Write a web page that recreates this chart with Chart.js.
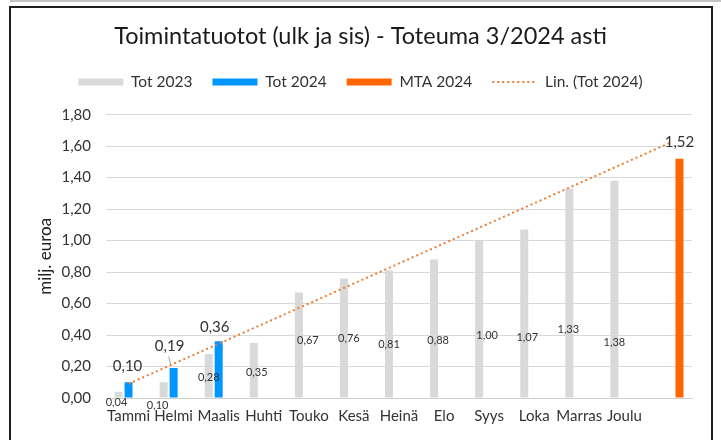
<!DOCTYPE html>
<html><head><meta charset="utf-8">
<script src="https://cdn.jsdelivr.net/npm/chart.js@4.4.1/dist/chart.umd.min.js"></script>
<style>
html,body{margin:0;padding:0;background:#fff;}
#wrap{position:relative;width:721px;height:440px;overflow:hidden;background:#fff;}
#topline{position:absolute;left:10px;top:0;width:711px;height:2px;background:#c4c4c4;}
#frame{position:absolute;left:9px;top:6px;width:700px;height:460px;border:2px solid #1e1e1e;pointer-events:none;}
canvas{position:absolute;left:0;top:0;}
</style></head><body>
<div id="wrap"><canvas id="c" width="721" height="440"></canvas><div id="topline"></div><div id="frame"></div></div>
<script>
// ---- data ----
const categories = ['Tammi','Helmi','Maalis','Huhti','Touko','Kesä','Heinä','Elo','Syys','Loka','Marras','Joulu',''];
const tot2023 = [0.04,0.10,0.28,0.35,0.67,0.76,0.81,0.88,1.00,1.07,1.33,1.38,null];
const tot2024 = [0.10,0.19,0.36,null,null,null,null,null,null,null,null,null,null];
const mta2024 = [null,null,null,null,null,null,null,null,null,null,null,null,1.52];
const trendTot2024 = [0.09,null,null,null,null,null,null,null,null,null,null,null,1.62];
const yTickMin = 0, yTickMax = 1.8, yTickStep = 0.2;

// label anchor positions (value units for height, px for horizontal nudge)
const lbl2023Y = [-0.03,-0.048,0.13,0.162,0.365,0.378,0.34,0.365,0.399,0.384,0.435,0.352,null];
const lbl2023Dx = [-2,-6,0,3,9,5,0,4,8,3,-1,0,0];
const lbl2024Y = [0.20,0.327,0.448];
const lbl2024Dx = [-1,-4,-4];
const lblMtaY = 1.624;

const FONT = 'Lato, "Open Sans", sans-serif';
const fmt = v => Number(v).toFixed(2).replace('.', ',');

const labelPlugin = {
  id: 'valueLabels',
  afterDatasetsDraw(chart) {
    const ctx = chart.ctx, ys = chart.scales.y;
    ctx.save();
    ctx.textAlign = 'center';
    ctx.textBaseline = 'middle';
    const m0 = chart.getDatasetMeta(0);
    ctx.font = '11px ' + FONT; ctx.fillStyle = '#333';
    tot2023.forEach((v, i) => {
      if (v == null) return;
      const b = m0.data[i];
      ctx.fillText(fmt(v), b.x + lbl2023Dx[i], ys.getPixelForValue(lbl2023Y[i]));
    });
    const m1 = chart.getDatasetMeta(1);
    ctx.font = '15px ' + FONT; ctx.fillStyle = '#333';
    tot2024.forEach((v, i) => {
      if (v == null) return;
      const b = m1.data[i];
      const lx = b.x + lbl2024Dx[i], ly = ys.getPixelForValue(lbl2024Y[i]);
      ctx.fillText(fmt(v), lx, ly);
      if (b.y - ly > 18) {
        ctx.strokeStyle = '#a6a6a6'; ctx.lineWidth = 1;
        ctx.beginPath(); ctx.moveTo(lx - 1, ly + 10); ctx.lineTo(b.x - 3, b.y - 4); ctx.stroke();
      }
    });
    const m2 = chart.getDatasetMeta(2);
    mta2024.forEach((v, i) => {
      if (v == null) return;
      const b = m2.data[i];
      ctx.fillText(fmt(v), b.x, ys.getPixelForValue(lblMtaY));
    });
    ctx.restore();
  }
};

const legendSpace = {
  id: 'legendSpace',
  beforeInit(chart) {
    const lg = chart.legend;
    if (!lg) return;
    const orig = lg.fit;
    lg.fit = function () { orig.call(this); this.height += 15; };
  }
};

const legendGen = (chart) => {
  const items = Chart.defaults.plugins.legend.labels.generateLabels(chart);
  items.sort((a, b) => a.datasetIndex - b.datasetIndex);
  items.forEach((it) => {
    if (it.datasetIndex === 3) { it.pointStyle = 'line'; it.lineWidth = 2; it.lineDash = [2, 3]; it.strokeStyle = '#ED7D31'; it.fillStyle = '#ED7D31'; }
    else { it.pointStyle = 'rect'; it.lineWidth = 0; }
  });
  return items;
};

Chart.defaults.font.family = FONT;
Chart.defaults.color = '#333';

new Chart(document.getElementById('c'), {
  data: {
    labels: categories,
    datasets: [
      { type: 'bar', label: 'Tot 2023', data: tot2023, backgroundColor: '#d9d9d9', categoryPercentage: 0.665, barPercentage: 0.8, order: 2 },
      { type: 'bar', label: 'Tot 2024', data: tot2024, backgroundColor: '#0096ff', categoryPercentage: 0.665, barPercentage: 0.8, order: 2 },
      { type: 'bar', label: 'MTA 2024', data: mta2024, backgroundColor: '#ff6600', categoryPercentage: 0.665, barPercentage: 0.8, order: 2 },
      { type: 'line', label: 'Lin. (Tot 2024)', data: trendTot2024, borderColor: '#ED7D31', backgroundColor: '#ED7D31', borderWidth: 2, borderDash: [2, 3], pointRadius: 0, spanGaps: true, fill: false, order: 1 }
    ]
  },
  options: {
    responsive: false,
    animation: false,
    layout: { padding: { left: 0, right: 0, top: 0, bottom: 6 } },
    plugins: {
      title: { display: true, text: 'Toimintatuotot (ulk ja sis) - Toteuma 3/2024 asti', color: '#1a1a1a', font: { size: 23.5, weight: 'normal' }, padding: { top: 22, bottom: 4 } },
      legend: { display: true, labels: { usePointStyle: true, pointStyleWidth: 45, boxWidth: 45, boxHeight: 7, padding: 20, font: { size: 15.5 }, color: '#333', generateLabels: legendGen } },
      tooltip: { enabled: false }
    },
    scales: {
      x: {
        grid: { display: false, drawTicks: false },
        border: { display: true, color: '#d0d0d0', width: 1 },
        ticks: { autoSkip: false, maxRotation: 0, minRotation: 0, padding: 9, font: { size: 15 }, color: '#333' }
      },
      y: {
        min: yTickMin, max: yTickMax,
        grid: { color: '#d9d9d9', drawTicks: false, lineWidth: 1 },
        border: { display: false },
        ticks: { stepSize: yTickStep, padding: 15, font: { size: 15 }, color: '#333', callback: v => fmt(v) },
        title: { display: true, text: 'milj. euroa', font: { size: 17 }, color: '#222', padding: { top: 35, bottom: 0 } },
        afterFit(scale) { scale.width = 106; }
      },
      yRight: {
        position: 'right',
        min: yTickMin, max: yTickMax,
        grid: { display: false, drawTicks: false },
        border: { display: false },
        ticks: { display: false },
        afterFit(scale) { scale.width = 29; }
      }
    }
  },
  plugins: [labelPlugin, legendSpace]
});
</script>
</body></html>
